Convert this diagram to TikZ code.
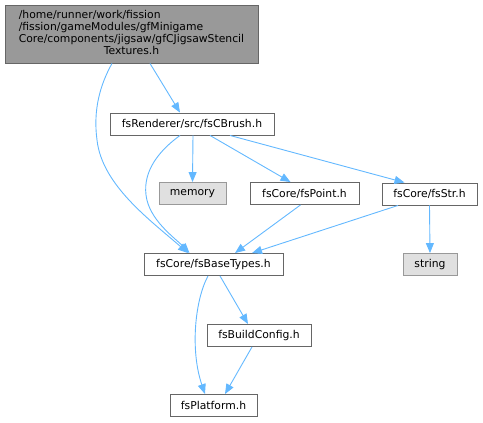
\documentclass[tikz,border=0pt]{standalone}
\usepackage{fontspec}
\setmainfont{DejaVu Sans}
\usetikzlibrary{arrows.meta}
\definecolor{edgeblue}{HTML}{63B8FF}
\definecolor{boxborder}{HTML}{666666}
\definecolor{topfill}{HTML}{999999}
\definecolor{sysfill}{HTML}{E0E0E0}
\definecolor{sysborder}{HTML}{999999}
\begin{document}
\begin{tikzpicture}[x=1pt,y=-1pt,
  every node/.style={font=\fontsize{10.8}{12.3}\selectfont, inner sep=0pt},
  filebox/.style={draw=boxborder, fill=white, line width=0.9pt, minimum height=22pt},
  sysbox/.style={draw=sysborder, fill=sysfill, line width=0.9pt, minimum height=22pt},
  topbox/.style={draw=boxborder, fill=topfill, line width=0.9pt},
  dep/.style={draw=edgeblue, line width=0.9pt, -{Triangle[length=10pt,width=8pt]}}
]
\useasboundingbox (0,0) rectangle (483,423);
\node[topbox, minimum width=253pt, minimum height=58pt] (top) at (131.5,34)
  {\begin{tabular}{@{}l@{}}/home/runner/work/fission\\/fission/gameModules/gfMinigame\\Core/components/jigsaw/gfCJigsawStencil\\\multicolumn{1}{@{}c@{}}{Textures.h}\end{tabular}};
\node[filebox, minimum width=164pt] (cbrush) at (192,124) {fsRenderer/src/fsCBrush.h};
\node[sysbox, minimum width=67pt] (memory) at (192.5,193.5) {memory};
\node[filebox, minimum width=109pt] (point) at (304.5,193.5) {fsCore/fsPoint.h};
\node[filebox, minimum width=95pt] (str) at (429.5,194) {fsCore/fsStr.h};
\node[sysbox, minimum width=54pt] (string) at (430,264.5) {string};
\node[filebox, minimum width=139pt] (base) at (213.5,264.5) {fsCore/fsBaseTypes.h};
\node[filebox, minimum width=104pt] (build) at (259,335.5) {fsBuildConfig.h};
\node[filebox, minimum width=87pt] (plat) at (213.5,405.5) {fsPlatform.h};

\draw[dep] ([xshift=18.5pt]top.south) -- ([xshift=-12pt]cbrush.north);
\draw[dep] ([xshift=-19.5pt]top.south) .. controls (100,85) and (93,110) .. (97,140)
  .. controls (102,185) and (150,220) .. ([xshift=-25.5pt]base.north);
\draw[dep] ([xshift=-12pt]cbrush.south) .. controls (160,150) and (143,170) .. (146,195)
  .. controls (149,220) and (175,238) .. ([xshift=-24pt]base.north);
\draw[dep] ([xshift=1pt]cbrush.south) -- (memory.north);
\draw[dep] ([xshift=18pt]cbrush.south) -- ([xshift=-14pt]point.north);
\draw[dep] ([xshift=38pt]cbrush.south) -- ([xshift=-25pt]str.north);
\draw[dep] ([xshift=-4pt]point.south) -- ([xshift=21.5pt]base.north);
\draw[dep] ([xshift=-31.5pt]str.south) -- ([xshift=38.5pt]base.north);
\draw[dep] (str.south) -- (string.north);
\draw[dep] ([xshift=6.5pt]base.south) -- ([xshift=-11pt]build.north);
\draw[dep] ([xshift=-5.5pt]base.south) .. controls (195,300) and (190,350) .. ([xshift=-8.5pt]plat.north);
\draw[dep] ([xshift=-7pt]build.south) -- ([xshift=11.5pt]plat.north);
\end{tikzpicture}
\end{document}
